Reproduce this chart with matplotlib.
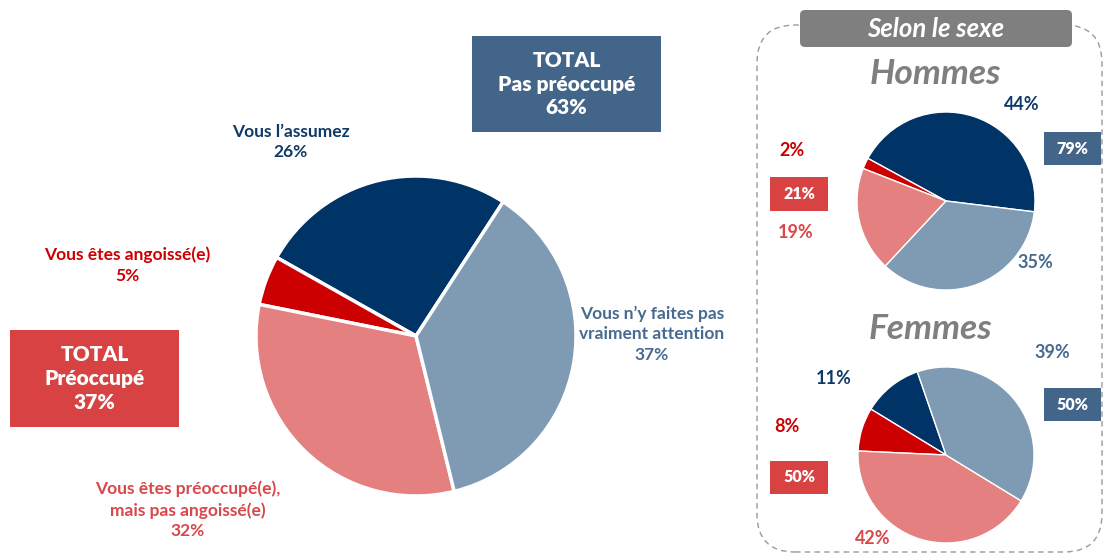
import matplotlib.pyplot as plt
from matplotlib.patches import Rectangle, FancyBboxPatch

plt.rcParams['font.family'] = ['Lato', 'DejaVu Sans']
plt.rcParams['font.weight'] = 'bold'

# Données
categories = ["Vous l'assumez", "Vous êtes angoissé(e)",
              "Vous êtes préoccupé(e), mais pas angoissé(e)",
              "Vous n'y faites pas vraiment attention"]
total = [26, 5, 32, 37]
hommes = [44, 2, 19, 35]
femmes = [11, 8, 42, 39]
total_preoccupe = [37, 21, 50]      # total, hommes, femmes
total_pas_preoccupe = [63, 79, 50]  # total, hommes, femmes

couleurs = ['#003366', '#cc0000', '#e48080', '#7f9ab3']
navy_txt = '#0f3a68'
bleu_txt = '#476b90'
rouge_txt = '#cc0000'
saumon_txt = '#d9474a'
bleu_box = '#426589'
rouge_box = '#d84242'

H = 555
fs_lab = 12.5   # étiquettes
fs_pct = 13     # pourcentages des petits camemberts
w_box = 'heavy'


def Y(py):
    return H - py


fig = plt.figure(figsize=(11.04, 5.55), dpi=100)
ax = fig.add_axes([0, 0, 1, 1])

# Camembert principal
ax.pie(total, colors=couleurs, startangle=57, counterclock=True,
       center=(416, Y(336)), radius=160, explode=[0, 0, 0, 0.03],
       wedgeprops=dict(edgecolor='white', linewidth=2.5))

# Hommes / Femmes
ax.pie(hommes, colors=couleurs, startangle=-7, counterclock=True,
       center=(946, Y(201)), radius=89,
       wedgeprops=dict(edgecolor='white', linewidth=1))
ax.pie(femmes, colors=couleurs, startangle=109, counterclock=True,
       center=(946, Y(455)), radius=88,
       wedgeprops=dict(edgecolor='white', linewidth=1))

ax.set_xlim(0, 1104)
ax.set_ylim(0, H)
ax.set_aspect('equal')
ax.axis('off')

# Etiquettes du camembert principal
ax.text(291, Y(142), "Vous l’assumez\n%d%%" % total[0], color=navy_txt,
        fontsize=fs_lab, ha='center', va='center', linespacing=1.35)
ax.text(127, Y(265), "Vous êtes angoissé(e)\n%d%%" % total[1], color=rouge_txt,
        fontsize=fs_lab, ha='center', va='center', linespacing=1.35)
ax.text(188, Y(510), "Vous êtes préoccupé(e),\nmais pas angoissé(e)\n%d%%" % total[2],
        color=saumon_txt, fontsize=fs_lab, ha='center', va='center', linespacing=1.35)
ax.text(652, Y(334), "Vous n’y faites pas\nvraiment attention\n%d%%" % total[3],
        color=bleu_txt, fontsize=fs_lab, ha='center', va='center', linespacing=1.35)

# Boîtes TOTAL
ax.add_patch(Rectangle((472, Y(132)), 189, 96, facecolor=bleu_box, edgecolor='none'))
ax.text(566.5, Y(84), "TOTAL\nPas préoccupé\n%d%%" % total_pas_preoccupe[0],
        color='white', fontsize=15, fontweight=w_box, ha='center', va='center',
        linespacing=1.3)
ax.add_patch(Rectangle((10, Y(427)), 169, 97, facecolor=rouge_box, edgecolor='none'))
ax.text(94.5, Y(378.5), "TOTAL\nPréoccupé\n%d%%" % total_preoccupe[0],
        color='white', fontsize=15, fontweight=w_box, ha='center', va='center',
        linespacing=1.3)

# Cadre "Selon le sexe"
ax.add_patch(FancyBboxPatch((757, Y(552)), 345, 527,
                            boxstyle='round,pad=0,rounding_size=38',
                            facecolor='none', edgecolor='#9a9a9a',
                            linewidth=1, linestyle=(0, (4, 3))))
ax.add_patch(FancyBboxPatch((800, Y(47)), 272, 37,
                            boxstyle='round,pad=0,rounding_size=5',
                            facecolor='#7f7f7f', edgecolor='none'))
ax.text(936, Y(29), "Selon le sexe", color='white', fontsize=18.5,
        style='italic', ha='center', va='center')

# Hommes
ax.text(935, Y(74), "Hommes", color='#7f7f7f', fontsize=25.5,
        style='italic', ha='center', va='center')
ax.text(1022, Y(104), "%d%%" % hommes[0], color=navy_txt, fontsize=fs_pct, ha='center', va='center')
ax.text(792, Y(150), "%d%%" % hommes[1], color=rouge_txt, fontsize=fs_pct, ha='center', va='center')
ax.text(796, Y(233), "%d%%" % hommes[2], color=saumon_txt, fontsize=fs_pct, ha='center', va='center')
ax.text(1035, Y(263), "%d%%" % hommes[3], color=bleu_txt, fontsize=fs_pct, ha='center', va='center')
ax.add_patch(Rectangle((1044, Y(165)), 57, 33, facecolor=bleu_box, edgecolor='none'))
ax.text(1072.5, Y(148.5), "%d%%" % total_pas_preoccupe[1], color='white', fontsize=11.5,
        fontweight=w_box, ha='center', va='center')
ax.add_patch(Rectangle((770, Y(211)), 58, 34, facecolor=rouge_box, edgecolor='none'))
ax.text(799, Y(194), "%d%%" % total_preoccupe[1], color='white', fontsize=11.5,
        fontweight=w_box, ha='center', va='center')

# Femmes
ax.text(930, Y(329), "Femmes", color='#7f7f7f', fontsize=25.5,
        style='italic', ha='center', va='center')
ax.text(834, Y(379), "%d%%" % femmes[0], color=navy_txt, fontsize=fs_pct, ha='center', va='center')
ax.text(787, Y(427), "%d%%" % femmes[1], color=rouge_txt, fontsize=fs_pct, ha='center', va='center')
ax.text(873, Y(539), "%d%%" % femmes[2], color=saumon_txt, fontsize=fs_pct, ha='center', va='center')
ax.text(1052, Y(352), "%d%%" % femmes[3], color=bleu_txt, fontsize=fs_pct, ha='center', va='center')
ax.add_patch(Rectangle((1044, Y(421)), 57, 33, facecolor=bleu_box, edgecolor='none'))
ax.text(1072.5, Y(404.5), "%d%%" % total_pas_preoccupe[2], color='white', fontsize=11.5,
        fontweight=w_box, ha='center', va='center')
ax.add_patch(Rectangle((770, Y(494)), 58, 33, facecolor=rouge_box, edgecolor='none'))
ax.text(799, Y(477.5), "%d%%" % total_preoccupe[2], color='white', fontsize=11.5,
        fontweight=w_box, ha='center', va='center')

fig.savefig('out.png', dpi=100)
